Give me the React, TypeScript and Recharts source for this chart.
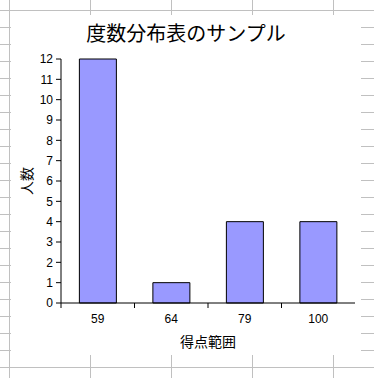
import React from "react";
import { BarChart, Bar, XAxis, YAxis, Label } from "recharts";

// 度数分布表のサンプル
const categories = ["59", "64", "79", "100"];
const counts = [12, 1, 4, 4];
const yTicks = [0, 1, 2, 3, 4, 5, 6, 7, 8, 9, 10, 11, 12];

const data = categories.map((c, i) => ({ range: c, count: counts[i] }));

const JP_FONT = '"Noto Sans CJK JP", "Noto Sans", sans-serif';
const NUM_FONT = '"Liberation Sans", Arial, sans-serif';
const GRID = "#c0c0c0";

// x ticks sit on the category boundaries, labels in the middle
function CategoryTick(props: any) {
  const { x, y, payload, width, visibleTicksCount } = props;
  const half = payload?.offset ?? width / visibleTicksCount / 2;
  return (
    <g>
      <line x1={x - half} x2={x - half} y1={y} y2={y + 5} stroke="#000" />
      <text
        x={x}
        y={y + 16}
        textAnchor="middle"
        dominantBaseline="central"
        fontSize={12}
        fontFamily={NUM_FONT}
        fill="#000"
      >
        {payload.value}
      </text>
    </g>
  );
}

function YTitle(props: any) {
  const vb = props.viewBox;
  const cx = vb.x + 15;
  const cy = vb.y + vb.height / 2;
  return (
    <text
      x={cx}
      y={cy}
      transform={`rotate(-90 ${cx} ${cy})`}
      textAnchor="middle"
      dominantBaseline="central"
      fontSize={14}
      fontFamily={JP_FONT}
      fill="#000"
    >
      人数
    </text>
  );
}

// spreadsheet cells behind the chart
function SheetGrid() {
  const rows = Array.from({ length: 22 }, (_, k) => 10 + 17 * k);
  const cols = Array.from({ length: 5 }, (_, k) => 9 + 81 * k);
  return (
    <>
      {rows.map((y) => (
        <div
          key={"r" + y}
          style={{ position: "absolute", left: 0, top: y, width: 374, height: 1, background: GRID }}
        />
      ))}
      {cols.map((x) => (
        <div
          key={"c" + x}
          style={{ position: "absolute", left: x, top: 0, width: 1, height: 378, background: GRID }}
        />
      ))}
    </>
  );
}

export default function App() {
  return (
    <div
      style={{
        position: "absolute",
        left: 0,
        top: 0,
        width: 374,
        height: 378,
        background: "#fff",
        overflow: "hidden",
      }}
    >
      <SheetGrid />
      <div
        style={{
          position: "absolute",
          left: 11,
          top: 15,
          width: 350,
          height: 340,
          background: "#fff",
        }}
      >
        <div
          style={{
            position: "absolute",
            left: 0,
            top: 5,
            width: 350,
            textAlign: "center",
            fontFamily: JP_FONT,
            fontSize: 20,
            lineHeight: "26px",
            color: "#000",
          }}
        >
          度数分布表のサンプル
        </div>
        <BarChart
          width={350}
          height={340}
          data={data}
          margin={{ top: 44, right: 6, left: 0, bottom: 0 }}
          barCategoryGap="25%"
        >
          <XAxis
            dataKey="range"
            height={52}
            axisLine={{ stroke: "#000" }}
            tickLine={false}
            tickSize={0}
            tickMargin={0}
            interval={0}
            tick={<CategoryTick />}
          >
            <Label
              value="得点範囲"
              position="insideBottom"
              offset={8}
              fontSize={14}
              fontFamily={JP_FONT}
              fill="#000"
            />
          </XAxis>
          <YAxis
            width={50}
            domain={[0, 12]}
            ticks={yTicks}
            interval={0}
            axisLine={{ stroke: "#000" }}
            tickLine={{ stroke: "#000" }}
            tickSize={5}
            tickMargin={3}
            tick={{ fill: "#000", fontSize: 12, fontFamily: NUM_FONT }}
            label={<YTitle />}
          />
          <Bar
            dataKey="count"
            fill="#9999ff"
            stroke="#000"
            strokeWidth={1}
            isAnimationActive={false}
          />
        </BarChart>
      </div>
    </div>
  );
}
